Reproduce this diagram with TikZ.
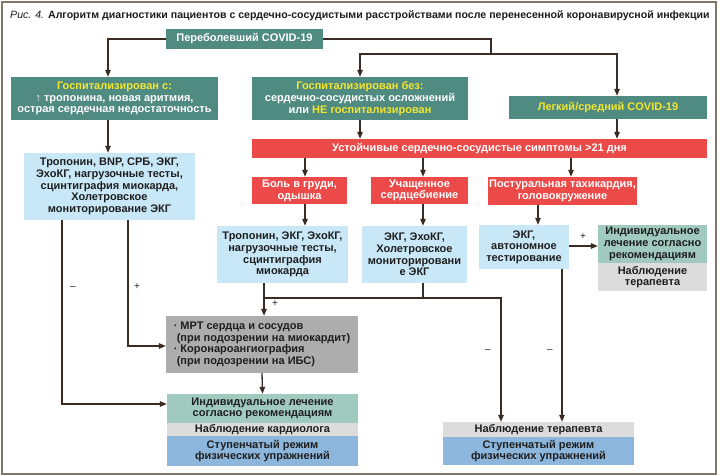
\documentclass[tikz,border=0pt]{standalone}
\usepackage{fontspec}
\setmainfont{Liberation Sans}
\usetikzlibrary{arrows.meta}
\definecolor{cteal}{HTML}{4F8B80}
\definecolor{cyel}{HTML}{F5E62E}
\definecolor{cred}{HTML}{EC4A48}
\definecolor{clblue}{HTML}{C8E8F8}
\definecolor{clteal}{HTML}{A0CABE}
\definecolor{clgray}{HTML}{DCDCDC}
\definecolor{cmgray}{HTML}{ADADAD}
\definecolor{cblue}{HTML}{8DB6DC}
\definecolor{carrow}{HTML}{3A2C22}
\definecolor{cframe}{HTML}{837868}
\definecolor{ctext}{HTML}{1E1E1E}
\tikzset{
  base/.style={draw=none, inner sep=0pt, align=center, font=\bfseries\fontsize{11}{11.7}\selectfont},
  wh/.style 2 args={minimum width=#1pt, minimum height=#2pt},
  tealbox/.style={base, fill=cteal, text=white},
  redbox/.style={base, fill=cred, text=white},
  lbluebox/.style={base, fill=clblue, text=ctext},
  ltealbox/.style={base, fill=clteal, text=ctext},
  lgraybox/.style={base, fill=clgray, text=ctext},
  mgraybox/.style={base, fill=cmgray, text=ctext},
  bluebox/.style={base, fill=cblue, text=ctext},
  conn/.style={draw=carrow, line width=1.3pt},
  arr/.style={conn, -{Triangle[length=7pt,width=5.5pt]}},
  sign/.style={inner sep=0pt, font=\fontsize{10}{12}\selectfont, text=ctext}
}
\newcommand{\yl}[1]{\textcolor{cyel}{#1}}
\begin{document}
\begin{tikzpicture}[x=1pt,y=-1pt]
\useasboundingbox (0,0) rectangle (720,476);
\fill[white] (0,0) rectangle (720,476);
\draw[cframe, line width=1.5pt] (2,2) rectangle (716,474);

\node[anchor=west, inner sep=0pt, font=\fontsize{10.6}{12}\selectfont, text=ctext] (title) at (10,16)
  {\textit{Рис. 4.} \textbf{Алгоритм диагностики пациентов с сердечно-сосудистыми расстройствами после перенесенной коронавирусной инфекции}};

% top level
\node[tealbox, wh={157}{20}] (main) at (244.5,39) {Переболевший COVID-19};
\node[tealbox, wh={207}{43}] (hosp1) at (114.5,98.5) {\yl{Госпитализирован с:}\\↑ тропонина, новая аритмия,\\острая сердечная недостаточность};
\node[tealbox, wh={216}{43}] (hosp2) at (360,98.5) {\yl{Госпитализирован без:}\\сердечно-сосудистых осложнений\\или \yl{НЕ госпитализирован}};
\node[tealbox, wh={198}{23}] (light) at (608,107.5) {\yl{Легкий/средний COVID-19}};

\node[redbox, wh={455}{19}] (red) at (479.5,148.5) {Устойчивые сердечно-сосудистые симптомы >21 дня};

\node[lbluebox, wh={171}{67}] (trop) at (109.5,186.5) {Тропонин, BNP, СРБ, ЭКГ,\\ЭхоКГ, нагрузочные тесты,\\сцинтиграфия миокарда,\\Холетровское\\мониторирование ЭКГ};

\node[redbox, wh={95}{27}] (chest) at (299.5,190.5) {Боль в груди,\\одышка};
\node[redbox, wh={97}{27}] (palp) at (419.5,190.5) {Учащенное\\сердцебиение};
\node[redbox, wh={149}{28}] (post) at (562.5,191) {Постуральная тахикардия,\\головокружение};

\node[lbluebox, wh={131}{57}] (b10) at (282.5,254.5) {Тропонин, ЭКГ, ЭхоКГ,\\нагрузочные тесты,\\сцинтиграфия\\миокарда};
\node[lbluebox, wh={105}{57}] (b11) at (414.5,254.5) {ЭКГ, ЭхоКГ,\\Холетровское\\мониторировани\\е ЭКГ};
\node[lbluebox, wh={90}{44}] (b12) at (524,247) {ЭКГ,\\автономное\\тестирование};

\node[ltealbox, wh={109}{38}] (tealR) at (652.5,244) {Индивидуальное\\лечение согласно\\рекомендациям};
\node[lgraybox, wh={109}{28}] (grayR) at (652.5,277) {Наблюдение\\терапевта};

\node[mgraybox, wh={192}{57}, align=left] (mri) at (262,344.5) {· МРТ сердца и сосудов\\\hspace*{3pt}(при подозрении на миокардит)\\· Коронароангиография\\\hspace*{3pt}(при подозрении на ИБС)};

\node[ltealbox, wh={191}{29}] (blteal) at (262.5,408.5) {Индивидуальное лечение\\согласно рекомендациям};
\node[lgraybox, wh={191}{13}] (blgray) at (262.5,429.5) {Наблюдение кардиолога};
\node[bluebox, wh={191}{30}] (blblue) at (262.5,451) {Ступенчатый режим\\физических упражнений};

\node[lgraybox, wh={191}{15}] (brgray) at (538.5,429.5) {Наблюдение терапевта};
\node[bluebox, wh={191}{28}] (brblue) at (538.5,451) {Ступенчатый режим\\физических упражнений};

% connectors
\coordinate (j1) at (491,54);
\coordinate (j2) at (264,298);
\draw[arr] (main.west) -| ([xshift=-6.5pt]hosp1.north);
\draw[conn] (main.east) -| (j1);
\draw[arr] (j1) -| (hosp2.north);
\draw[arr] (j1) -| ([xshift=9pt]light.north);

\draw[arr] ([xshift=-6.5pt]hosp1.south) -- ([xshift=-1.5pt]trop.north);
\draw[arr] (hosp2.south) -- (hosp2.south |- red.north);
\draw[arr] ([xshift=9pt]light.south) -- ([xshift=9pt]light.south |- red.north);

\draw[arr] ([xshift=5.5pt]chest.north |- red.south) -- ([xshift=5.5pt]chest.north);
\draw[arr] ([xshift=3.5pt]palp.north |- red.south) -- ([xshift=3.5pt]palp.north);
\draw[arr] ([xshift=8.5pt]post.north |- red.south) -- ([xshift=8.5pt]post.north);

\draw[arr] ([xshift=5.5pt]chest.south) -- ([xshift=5.5pt]chest.south |- b10.north);
\draw[arr] ([xshift=3.5pt]palp.south) -- ([xshift=3.5pt]palp.south |- b11.north);
\draw[arr] ([xshift=-24.5pt]post.south) -- ([xshift=-24.5pt]post.south |- b12.north);

\draw[arr] (b12.east |- tealR.west) ++(0,2) coordinate (b12e) (b12e) -- (b12e -| tealR.west);
\node[sign] (p1) at (583,237) {+};

\draw[arr] ([xshift=-47.5pt]trop.south) |- ([yshift=4.5pt]blteal.west);
\node[sign] (m1) at (73,288) {–};
\draw[arr] ([xshift=18.5pt]trop.south) |- ([yshift=-1.5pt]mri.west);
\node[sign] (p2) at (137,287) {+};

\draw[arr] ([xshift=-18.5pt]b10.south) -- ([xshift=-18.5pt]b10.south |- mri.north);
\node[sign] (p3) at (275,304) {+};
\draw[arr] (j2) -| ([xshift=-37.5pt]brgray.north);
\draw[conn] ([xshift=8.5pt]b11.south) -- ([xshift=8.5pt]b11.south |- j2);
\node[sign] (m2) at (488,351) {–};
\draw[arr] ([xshift=38pt]b12.south) -- ([xshift=38pt]b12.south |- brgray.north);
\node[sign] (m3) at (550,351) {–};

\draw[arr] (mri.south) -- (blteal.north);
\end{tikzpicture}
\end{document}
